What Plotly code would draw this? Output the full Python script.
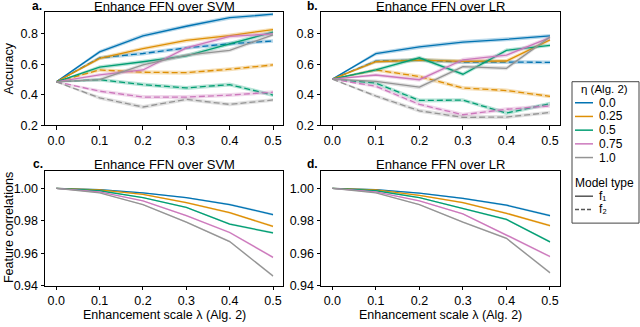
import plotly.graph_objects as go

# --- DADOS ---
x_vals = [0.0, 0.1, 0.2, 0.3, 0.4, 0.5]
eta_labels = ["0.0", "0.25", "0.5", "0.75", "1.0"]
cores = ["#0173b2", "#de8f05", "#029e73", "#cc78bc", "#949494"]

# Acurácia, FFN sobre SVM (f1 = linha cheia, f2 = tracejada)
acc_svm_f1 = [
    [0.485, 0.682, 0.787, 0.850, 0.906, 0.929],
    [0.485, 0.639, 0.703, 0.757, 0.789, 0.828],
    [0.485, 0.582, 0.617, 0.656, 0.735, 0.811],
    [0.485, 0.531, 0.563, 0.708, 0.783, 0.800],
    [0.485, 0.500, 0.596, 0.660, 0.692, 0.794],
]
acc_svm_f2 = [
    [0.485, 0.643, 0.671, 0.708, 0.735, 0.753],
    [0.485, 0.563, 0.548, 0.545, 0.568, 0.596],
    [0.485, 0.499, 0.467, 0.445, 0.467, 0.398],
    [0.485, 0.424, 0.385, 0.385, 0.398, 0.417],
    [0.485, 0.380, 0.320, 0.370, 0.337, 0.366],
]
# Acurácia, FFN sobre LR
acc_lr_f1 = [
    [0.503, 0.670, 0.714, 0.746, 0.764, 0.787],
    [0.503, 0.617, 0.628, 0.620, 0.622, 0.760],
    [0.503, 0.563, 0.643, 0.535, 0.692, 0.725],
    [0.503, 0.530, 0.499, 0.630, 0.660, 0.775],
    [0.503, 0.488, 0.450, 0.585, 0.574, 0.780],
]
acc_lr_f2 = [
    [0.503, 0.621, 0.628, 0.615, 0.615, 0.613],
    [0.503, 0.563, 0.520, 0.445, 0.428, 0.390],
    [0.503, 0.477, 0.363, 0.365, 0.280, 0.342],
    [0.503, 0.456, 0.337, 0.269, 0.305, 0.327],
    [0.503, 0.392, 0.295, 0.252, 0.254, 0.284],
]
# Correlação das features
corr_svm = [
    [1.000, 0.9992, 0.9972, 0.9942, 0.9900, 0.9838],
    [1.000, 0.9990, 0.9962, 0.9912, 0.9850, 0.9765],
    [1.000, 0.9985, 0.9942, 0.9882, 0.9780, 0.9725],
    [1.000, 0.9978, 0.9922, 0.9832, 0.9728, 0.9575],
    [1.000, 0.9972, 0.9900, 0.9792, 0.9672, 0.9460],
]
corr_lr = [
    [1.000, 0.9992, 0.9970, 0.9938, 0.9896, 0.9832],
    [1.000, 0.9990, 0.9957, 0.9912, 0.9846, 0.9770],
    [1.000, 0.9985, 0.9942, 0.9876, 0.9808, 0.9670],
    [1.000, 0.9978, 0.9922, 0.9842, 0.9712, 0.9580],
    [1.000, 0.9972, 0.9900, 0.9792, 0.9692, 0.9480],
]
# meia-largura das bandas de confiança
banda_acc = [0.004, 0.012, 0.013, 0.013, 0.013, 0.012]
banda_corr = [0.0, 0.0003, 0.0004, 0.0005, 0.0006, 0.0007]

FONTE = "Liberation Sans, Arial, sans-serif"


def rgba(hexcor, a):
    h = hexcor.lstrip("#")
    return f"rgba({int(h[0:2], 16)},{int(h[2:4], 16)},{int(h[4:6], 16)},{a})"


fig = go.Figure()


def add_serie(ys, cor, xa, ya, banda, dash):
    sup = [y + b for y, b in zip(ys, banda)]
    inf = [y - b for y, b in zip(ys, banda)]
    fig.add_trace(go.Scatter(
        x=x_vals + x_vals[::-1], y=sup + inf[::-1], fill="toself",
        fillcolor=rgba(cor, 0.28), line=dict(width=0), mode="lines",
        xaxis=xa, yaxis=ya, showlegend=False, hoverinfo="skip"))
    fig.add_trace(go.Scatter(
        x=x_vals, y=ys, mode="lines", line=dict(color=cor, width=1.3, dash=dash),
        xaxis=xa, yaxis=ya, showlegend=False))


for i, cor in enumerate(cores):
    add_serie(acc_svm_f1[i], cor, "x", "y", banda_acc, "solid")
    add_serie(acc_svm_f2[i], cor, "x", "y", banda_acc, "6px,3px")
    add_serie(acc_lr_f1[i], cor, "x2", "y2", banda_acc, "solid")
    add_serie(acc_lr_f2[i], cor, "x2", "y2", banda_acc, "6px,3px")
    add_serie(corr_svm[i], cor, "x3", "y3", banda_corr, "solid")
    add_serie(corr_lr[i], cor, "x4", "y4", banda_corr, "solid")

# --- EIXOS ---
dom_x_esq = [45 / 640, 283 / 640]
dom_x_dir = [321 / 640, 560 / 640]
dom_y_top = [1 - 128 / 327, 1 - 12.5 / 327]
dom_y_bot = [1 - 292 / 327, 1 - 175 / 327]

eixo = dict(showline=True, linecolor="black", linewidth=1, mirror=True,
            ticks="outside", ticklen=3.5, tickwidth=1, tickcolor="black",
            showgrid=False, zeroline=False,
            tickfont=dict(family=FONTE, size=12.5, color="black"))
eixo_x = dict(eixo, range=[-0.026, 0.523], tickvals=x_vals, tickformat=".1f")
eixo_acc = dict(eixo, range=[0.2, 0.942], tickvals=[0.2, 0.4, 0.6, 0.8], tickformat=".1f")
eixo_corr = dict(eixo, range=[0.94, 1.0105], tickvals=[0.94, 0.96, 0.98, 1.00], tickformat=".2f")

fig.update_layout(
    xaxis=dict(eixo_x, domain=dom_x_esq, anchor="y"),
    yaxis=dict(eixo_acc, domain=dom_y_top, anchor="x"),
    xaxis2=dict(eixo_x, domain=dom_x_dir, anchor="y2"),
    yaxis2=dict(eixo_acc, domain=dom_y_top, anchor="x2"),
    xaxis3=dict(eixo_x, domain=dom_x_esq, anchor="y3"),
    yaxis3=dict(eixo_corr, domain=dom_y_bot, anchor="x3"),
    xaxis4=dict(eixo_x, domain=dom_x_dir, anchor="y4"),
    yaxis4=dict(eixo_corr, domain=dom_y_bot, anchor="x4"),
)

# --- TEXTOS ---
anots = []


def texto(t, px, py, size=12.5, angle=0, xanchor="center", bold=False):
    if bold:
        t = f"<b>{t}</b>"
    anots.append(dict(text=t, x=px / 640, y=1 - py / 327, xref="paper", yref="paper",
                      showarrow=False, xanchor=xanchor, yanchor="middle", textangle=angle,
                      font=dict(family=FONTE, size=size, color="black")))


texto("Enhance FFN over SVM", 164, 6.5, 13)
texto("Enhance FFN over LR", 440.5, 6.5, 13)
texto("Enhance FFN over SVM", 164, 168, 13)
texto("Enhance FFN over LR", 440.5, 168, 13)
texto("a.", 37, 6, 12, bold=True)
texto("b.", 312, 6, 12, bold=True)
texto("c.", 38, 168, 12, bold=True)
texto("d.", 312, 168, 12, bold=True)
texto("Accuracy", 9, 70, 12.5, angle=-90)
texto("Feature correlations", 9, 233, 12.5, angle=-90)
texto("Enhancement scale λ (Alg. 2)", 164, 321.5, 12.5)
texto("Enhancement scale λ (Alg. 2)", 440.5, 321.5, 12.5)

# --- LEGENDA (desenhada à mão para manter o espaçamento compacto) ---
formas = [dict(type="rect", xref="paper", yref="paper",
               x0=572 / 640, x1=639 / 640, y0=1 - 228 / 327, y1=1 - 83.5 / 327,
               line=dict(color="#444444", width=1), fillcolor="white")]


def item_legenda(py, cor, dash="solid"):
    formas.append(dict(type="line", xref="paper", yref="paper",
                       x0=575 / 640, x1=593 / 640, y0=1 - py / 327, y1=1 - py / 327,
                       line=dict(color=cor, width=1.5, dash=dash)))


texto("η (Alg. 2)", 604.5, 90.5, 11.5)
for k, (lab, cor) in enumerate(zip(eta_labels, cores)):
    py = 105 + 14 * k
    item_legenda(py, cor)
    texto(lab, 597, py, 12, xanchor="left")
texto("Model type", 604, 187, 12)
item_legenda(200.5, "#555555")
texto("f₁", 597, 200.5, 12, xanchor="left")
item_legenda(214, "#555555", "4px,2px")
texto("f₂", 597, 214, 12, xanchor="left")

fig.update_layout(
    width=640, height=327,
    margin=dict(l=0, r=0, t=0, b=0),
    paper_bgcolor="white", plot_bgcolor="white",
    showlegend=False,
    annotations=anots, shapes=formas,
    font=dict(family=FONTE, color="black"),
)

# tira a margem padrão do <body> para o gráfico ficar no canto da janela
fig.write_html("out.html", config={"displayModeBar": False},
               post_script="document.body.style.margin='0';")
